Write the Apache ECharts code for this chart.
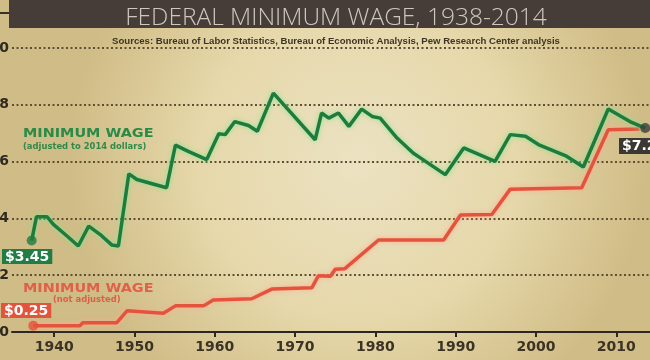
<!DOCTYPE html>
<html><head><meta charset="utf-8">
<script src="https://cdn.jsdelivr.net/npm/echarts@6/dist/echarts.min.js"></script>
<style>html,body{margin:0;padding:0;background:#e4d7a8}#c{width:650px;height:360px;}</style>
</head><body><div id="c"></div>
<script>
// Minimum wage adjusted to 2014 dollars
const adjYears  = [1937.2,1937.8,1939.1,1939.9,1941.6,1943.0,1944.3,1945.7,1947.2,1948.0,1949.3,1950.3,1954.0,1955.1,1956.7,1959.0,1960.5,1961.3,1962.5,1964.2,1965.3,1967.3,1972.5,1973.3,1974.2,1975.4,1976.7,1978.3,1979.6,1980.6,1982.7,1984.7,1985.6,1988.7,1991.0,1994.9,1996.8,1998.7,2000.3,2003.8,2005.9,2009.0,2011.7,2013.6];
const adjValues = [3.22,4.06,4.06,3.79,3.38,3.03,3.73,3.44,3.06,3.03,5.57,5.37,5.08,6.58,6.36,6.07,6.98,6.95,7.41,7.27,7.07,8.41,6.77,7.71,7.53,7.71,7.24,7.85,7.59,7.53,6.83,6.30,6.13,5.54,6.48,6.01,6.95,6.89,6.60,6.19,5.81,7.85,7.41,7.18];
// Minimum wage, not adjusted
const nomYears  = [1937.4,1943.2,1943.6,1947.8,1949.1,1953.6,1955.1,1958.6,1959.8,1964.6,1967.1,1972.1,1972.9,1974.4,1975.0,1976.2,1980.4,1988.5,1990.6,1994.5,1996.8,2005.7,2009.0,2012.9];
const nomValues = [0.22,0.22,0.33,0.33,0.75,0.66,0.92,0.92,1.13,1.17,1.51,1.56,1.98,1.96,2.21,2.23,3.24,3.24,4.12,4.14,5.03,5.08,7.12,7.15];
const yearTicks  = [1940,1950,1960,1970,1980,1990,2000,2010];
const valueTicks = [0,2,4,6,8,10];
const titleText = 'FEDERAL MINIMUM WAGE, 1938-2014';
const sourceText = 'Sources: Bureau of Labor Statistics, Bureau of Economic Analysis, Pew Research Center analysis';
const startAdjLabel = '$3.45', startNomLabel = '$0.25', endLabel = '$7.25';

const adjData = adjYears.map((y,i)=>[y,adjValues[i]]);
const nomData = nomYears.map((y,i)=>[y,nomValues[i]]);
const green = '#1f7b3d', red = '#e4533b';

const chart = echarts.init(document.getElementById('c'), null, {renderer:'canvas'});
chart.setOption({
  animation:false,
  backgroundColor:{type:'radial',x:0.55,y:0.45,r:0.8,colorStops:[
    {offset:0,color:'#ece2c2'},{offset:0.55,color:'#e6d8aa'},{offset:1,color:'#d0bc86'}]},
  title:{
    text:titleText, subtext:sourceText,
    left:331, top:1, textAlign:'center', itemGap:5,
    textStyle:{color:'#cdc7bd',fontSize:24.5,fontWeight:300,fontFamily:'Open Sans, Liberation Sans, sans-serif'},
    subtextStyle:{color:'#3e3424',fontSize:9.6,fontWeight:'bold',fontFamily:'Liberation Sans Narrow, Liberation Sans, sans-serif'}
  },
  grid:{left:12,right:0,top:48,bottom:28,outerBoundsMode:'none',containLabel:false},
  xAxis:{
    type:'value', min:1934.75, max:2014.2,
    axisLine:{show:true,lineStyle:{color:'#2b2722',width:2}},
    axisTick:{show:true,length:5,lineStyle:{color:'#2b2722',width:2},customValues:yearTicks},
    axisLabel:{customValues:yearTicks,margin:8,color:'#3b3325',fontSize:14,fontWeight:'bold',fontFamily:'DejaVu Sans, sans-serif',formatter:v=>String(v),hideOverlap:false},
    splitLine:{show:false}
  },
  yAxis:{
    type:'value', min:0, max:10, interval:2,
    axisLine:{show:false}, axisTick:{show:false},
    axisLabel:{margin:3,color:'#2e2a22',fontSize:14,fontWeight:'bold',fontFamily:'DejaVu Sans, sans-serif',customValues:valueTicks,hideOverlap:false},
    splitLine:{show:true,lineStyle:{color:'#5e5036',width:2,type:[2,2.5]}}
  },
  graphic:[
    {type:'rect',z:-1,shape:{x:9,y:0,width:641,height:28},style:{fill:'#463d39'}},
    {type:'rect',z:-1,shape:{x:0,y:12,width:9,height:2},style:{fill:'#3a3028'}},
    {type:'text',x:23,y:128,scaleX:1.2,style:{text:'MINIMUM WAGE',fill:'#2a8a47',font:'bold 12px DejaVu Sans, sans-serif'}},
    {type:'text',x:23,y:143,scaleX:1.05,style:{text:'(adjusted to 2014 dollars)',fill:'#2f8a4a',font:'bold 8px DejaVu Sans, sans-serif'}},
    {type:'text',x:23,y:283,scaleX:1.2,style:{text:'MINIMUM WAGE',fill:'#e0604a',font:'bold 12px DejaVu Sans, sans-serif'}},
    {type:'text',x:53,y:296,scaleX:1.05,style:{text:'(not adjusted)',fill:'#d9604a',font:'bold 8px DejaVu Sans, sans-serif'}},
    {type:'text',x:2,y:249,style:{text:startAdjLabel,fill:'#ffffff',backgroundColor:'#1f7d45',padding:[1,3,0,3],font:'bold 14px DejaVu Sans, sans-serif'}},
    {type:'text',x:1,y:303,style:{text:startNomLabel,fill:'#ffffff',backgroundColor:'#e4533b',padding:[1,3,0,3],font:'bold 14px DejaVu Sans, sans-serif'}},
    {type:'text',x:619,y:138,style:{text:endLabel,fill:'#ffffff',backgroundColor:'#3b3733',padding:[1,3,1,3],font:'bold 14px DejaVu Sans, sans-serif'}}
  ],
  series:[
    {type:'line',data:nomData,symbol:'none',z:3,
      lineStyle:{color:red,width:3.5,shadowBlur:5,shadowColor:'rgba(255,170,150,0.95)'}},
    {type:'line',data:adjData,symbol:'none',z:4,
      lineStyle:{color:green,width:3.5,shadowBlur:5,shadowColor:'rgba(130,230,140,0.95)'}},
    {type:'scatter',z:5,symbolSize:10,data:[
      {value:adjData[0],itemStyle:{color:green}},
      {value:nomData[0],itemStyle:{color:red}},
      {value:adjData[adjData.length-1],itemStyle:{color:'#3c3c3c'}}
    ]}
  ]
});
</script></body></html>
